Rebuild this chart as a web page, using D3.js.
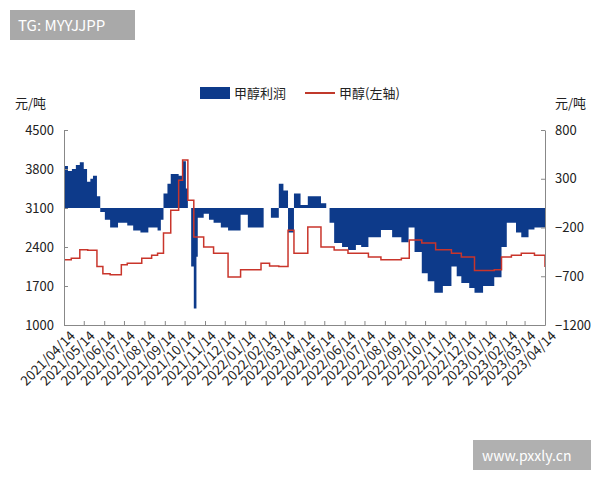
<!DOCTYPE html>
<html><head><meta charset="utf-8">
<script src="https://cdn.jsdelivr.net/npm/d3@7"></script>
<style>body{margin:0;background:#fff}text{font-family:"Noto Sans CJK SC","Noto Sans",sans-serif}</style>
</head><body><svg id="c" width="600" height="480"></svg>
<script>
const xLabels=["2021/04/14","2021/05/14","2021/06/14","2021/07/14","2021/08/14","2021/09/14","2021/10/14","2021/11/14","2021/12/14","2022/01/14","2022/02/14","2022/03/14","2022/04/14","2022/05/14","2022/06/14","2022/07/14","2022/08/14","2022/09/14","2022/10/14","2022/11/14","2022/12/14","2023/01/14","2023/02/14","2023/03/14","2023/04/14"];
const leftTicks=[1000,1700,2400,3100,3800,4500];
const rightTicks=[-1200,-700,-200,300,800];
const profitDates=["2021-04-14","2021-04-20","2021-04-26","2021-05-02","2021-05-08","2021-05-14","2021-05-19","2021-05-24","2021-05-28","2021-06-03","2021-06-08","2021-06-15","2021-06-23","2021-07-05","2021-07-19","2021-07-28","2021-08-08","2021-08-20","2021-09-03","2021-09-08","2021-09-12","2021-09-18","2021-09-23","2021-10-05","2021-10-11","2021-10-16","2021-10-19","2021-10-24","2021-10-28","2021-11-01","2021-11-03","2021-11-12","2021-11-20","2021-11-27","2021-12-08","2021-12-19","2022-01-07","2022-01-18","2022-02-07","2022-02-11","2022-02-22","2022-03-06","2022-03-13","2022-03-20","2022-03-29","2022-04-08","2022-04-19","2022-05-09","2022-05-17","2022-05-22","2022-05-29","2022-06-10","2022-06-19","2022-07-01","2022-07-09","2022-07-20","2022-08-08","2022-08-25","2022-09-08","2022-09-19","2022-09-28","2022-10-09","2022-10-18","2022-10-28","2022-11-10","2022-11-23","2022-12-01","2022-12-08","2022-12-20","2022-12-28","2023-01-10","2023-01-27","2023-02-07","2023-02-15","2023-02-22","2023-03-01","2023-03-09","2023-03-20","2023-03-29","2023-04-14"];
const profitValues=[430,380,400,440,470,400,270,300,330,120,-40,-120,-200,-150,-180,-230,-250,-200,-230,-120,150,250,350,330,480,200,0,-600,-1030,-500,-100,-60,-120,-150,-200,-230,-70,-200,-200,0,-100,250,180,-250,150,30,120,50,0,-150,-360,-400,-430,-380,-400,-300,-225,-300,-350,-200,-450,-670,-750,-870,-800,-600,-700,-770,-820,-870,-800,-710,-400,-150,-150,-250,-300,-220,-200,-220];
const priceDates=["2021-04-14","2021-04-25","2021-05-08","2021-05-20","2021-06-03","2021-06-12","2021-06-23","2021-07-10","2021-07-19","2021-08-10","2021-08-25","2021-09-03","2021-09-12","2021-09-23","2021-10-05","2021-10-11","2021-10-19","2021-10-28","2021-11-12","2021-11-27","2021-12-19","2022-01-07","2022-01-18","2022-02-07","2022-02-20","2022-03-06","2022-03-20","2022-03-29","2022-04-19","2022-05-09","2022-05-29","2022-06-19","2022-07-20","2022-08-08","2022-09-08","2022-09-20","2022-10-09","2022-10-30","2022-11-23","2022-12-08","2022-12-28","2023-01-27","2023-02-07","2023-02-22","2023-03-09","2023-03-29","2023-04-14"];
const priceValues=[2170,2200,2350,2340,2050,1920,1900,2080,2110,2200,2250,2290,2650,3060,3600,3960,3240,2580,2400,2290,1860,1990,1990,2110,2060,2050,2700,2290,2760,2400,2346,2290,2220,2170,2200,2525,2470,2350,2290,2220,1980,1990,2220,2250,2290,2250,2040];

const svg=d3.select("#c");
const L=64,R=545,T=130,B=325;
const parse=d3.timeParse("%Y-%m-%d");
const x=d3.scaleTime().domain([parse("2021-04-14"),parse("2023-04-14")]).range([L,R]);
const yl=d3.scaleLinear().domain([1000,4500]).range([B,T]);
const yr=d3.scaleLinear().domain([-1200,800]).range([B,T]);

svg.append("rect").attr("x",10).attr("y",10).attr("width",125).attr("height",30).attr("fill","#a9a9a9");
svg.append("text").attr("x",18).attr("y",31).attr("fill","#fff").attr("font-size",15).text("TG: MYYJJPP");
svg.append("rect").attr("x",473).attr("y",440).attr("width",118).attr("height",30).attr("fill","#b0b0b0");
svg.append("text").attr("x",482).attr("y",461).attr("fill","#fff").attr("font-size",14).text("www.pxxly.cn");

svg.append("rect").attr("x",200).attr("y",87).attr("width",30).attr("height",12).attr("fill","#0d3a8a");
svg.append("text").attr("x",234).attr("y",98).attr("font-size",13).attr("fill","#222").text("甲醇利润");
svg.append("line").attr("x1",305).attr("x2",335).attr("y1",93).attr("y2",93).attr("stroke","#c0392b").attr("stroke-width",2);
svg.append("text").attr("x",339).attr("y",98).attr("font-size",13).attr("fill","#222").text("甲醇(左轴)");
svg.append("text").attr("x",15).attr("y",108).attr("font-size",13).attr("fill","#222").text("元/吨");
svg.append("text").attr("x",555).attr("y",108).attr("font-size",13).attr("fill","#222").text("元/吨");

const pdata=profitDates.map((d,i)=>({d:parse(d),v:profitValues[i]}));
svg.append("path").datum(pdata).attr("fill","#0d3a8a")
 .attr("d",d3.area().x(d=>x(d.d)).y0(yr(0)).y1(d=>yr(d.v)).curve(d3.curveStepAfter));
const rdata=priceDates.map((d,i)=>({d:parse(d),v:priceValues[i]}));
svg.append("path").datum(rdata).attr("fill","none").attr("stroke","#c9352b").attr("stroke-width",1.5)
 .attr("d",d3.line().x(d=>x(d.d)).y(d=>yl(d.v)).curve(d3.curveStepAfter));

const ax=(g)=>{g.selectAll("path,line").attr("stroke","#888");g.selectAll("text").attr("font-size",13).attr("fill","#222").attr("font-family","'Noto Sans',sans-serif");};
svg.append("g").attr("transform",`translate(${L},0)`).call(d3.axisLeft(yl).tickValues(leftTicks).tickFormat(d3.format("d")).tickSize(-4).tickSizeOuter(0).tickPadding(10)).call(ax);
svg.append("g").attr("transform",`translate(${R},0)`).call(d3.axisRight(yr).tickValues(rightTicks).tickFormat(d3.format("d")).tickSize(-4).tickSizeOuter(0).tickPadding(10)).call(ax);
const xd=xLabels.map(s=>d3.timeParse("%Y/%m/%d")(s));
const gx=svg.append("g").attr("transform",`translate(0,${B})`).call(d3.axisBottom(x).tickValues(xd).tickSize(-4).tickSizeOuter(0).tickFormat(d3.timeFormat("%Y/%m/%d"))).call(ax);
gx.selectAll("text").attr("font-size",13.5).attr("text-anchor","end").attr("transform","translate(4,4) rotate(-45)").attr("dy","0.35em").attr("y",6);
</script></body></html>
